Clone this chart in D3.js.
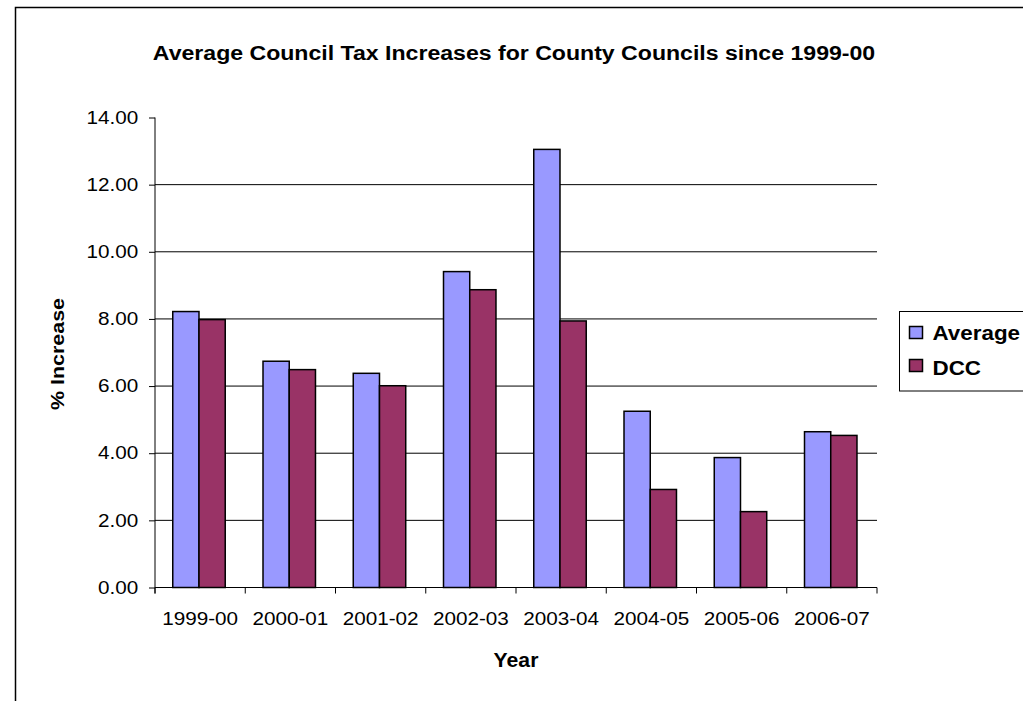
<!DOCTYPE html>
<html lang="en">
<head>
<meta charset="UTF-8">
<title>Average Council Tax Increases</title>
<script src="https://d3js.org/d3.v7.min.js"></script>
<style>
    body { margin: 0; background: #fff; }
    svg text { font-family: "Liberation Sans", Arial, sans-serif; fill: #000; }
</style>
</head>
<body>
<svg width="1023" height="701"></svg>
<script>
// chart data
const years = ["1999-00", "2000-01", "2001-02", "2002-03", "2003-04", "2004-05", "2005-06", "2006-07"];
const seriesNames = ["Average", "DCC"];
const averageValues = [8.22, 6.74, 6.38, 9.41, 13.05, 5.25, 3.87, 4.64];
const dccValues = [7.98, 6.49, 6.01, 8.87, 7.94, 2.92, 2.26, 4.53];
const yTicks = [0, 2, 4, 6, 8, 10, 12, 14];
const titleText = "Average Council Tax Increases for County Councils since 1999-00";

const colors = { "Average": "#9999ff", "DCC": "#993366" };
const svg = d3.select("svg");

// outer chart border (runs off the right / bottom of the picture)
svg.append("rect")
    .attr("x", 15.5).attr("y", 7.5)
    .attr("width", 1100).attr("height", 800)
    .attr("fill", "none").attr("stroke", "#000").attr("stroke-width", 1.5);

const plotLeft = 155, plotRight = 877, plotTop = 117.5, plotBottom = 587.5;

const x0 = d3.scaleBand().domain(years).range([plotLeft, plotRight]);
const x1 = d3.scaleBand().domain(seriesNames)
    .range([0, x0.bandwidth()]).paddingOuter(0.72).align(0.47);
const y = d3.scaleLinear().domain([0, 14]).range([plotBottom, plotTop]);

// gridlines
svg.append("g")
    .selectAll("line")
    .data(yTicks.filter(d => d > 0 && d < 14))
    .join("line")
    .attr("x1", plotLeft).attr("x2", plotRight)
    .attr("y1", d => y(d)).attr("y2", d => y(d))
    .attr("stroke", "#000").attr("stroke-width", 1);

// bars
const rows = years.map((yr, i) => ({ year: yr, values: [averageValues[i], dccValues[i]] }));
const groups = svg.append("g")
    .selectAll("g")
    .data(rows)
    .join("g")
    .attr("transform", d => `translate(${x0(d.year)},0)`);

groups.selectAll("rect")
    .data(d => seriesNames.map((s, j) => ({ key: s, value: d.values[j] })))
    .join("rect")
    .attr("x", d => x1(d.key))
    .attr("width", x1.bandwidth())
    .attr("y", d => y(d.value))
    .attr("height", d => y(0) - y(d.value))
    .attr("fill", d => colors[d.key])
    .attr("stroke", "#000")
    .attr("stroke-width", 1.5);

// y axis
const yAxis = svg.append("g")
    .attr("transform", `translate(${plotLeft},0)`)
    .call(d3.axisLeft(y).tickValues(yTicks).tickFormat(d3.format(".2f")).tickSize(6).tickPadding(8.5));
yAxis.select(".domain").remove();
yAxis.selectAll(".tick line").attr("stroke", "#000");
yAxis.selectAll("text")
    .attr("font-size", 18)
    .attr("transform", "scale(1.15,1)");
svg.append("line")
    .attr("x1", plotLeft).attr("x2", plotLeft)
    .attr("y1", plotTop).attr("y2", plotBottom + 6)
    .attr("stroke", "#000");

// x axis
svg.append("line")
    .attr("x1", plotLeft).attr("x2", plotRight)
    .attr("y1", plotBottom).attr("y2", plotBottom)
    .attr("stroke", "#000");
const xAxis = svg.append("g")
    .attr("transform", `translate(0,${plotBottom})`)
    .call(d3.axisBottom(x0).tickSize(0).tickPadding(24.7));
xAxis.select(".domain").remove();
xAxis.selectAll("text")
    .attr("font-size", 18)
    .attr("transform", "scale(1.15,1)");
svg.append("g")
    .selectAll("line")
    .data(years.map(d => x0(d)).concat([plotRight]))
    .join("line")
    .attr("x1", d => d).attr("x2", d => d)
    .attr("y1", plotBottom).attr("y2", plotBottom + 6)
    .attr("stroke", "#000");

// title and axis titles
svg.append("text")
    .attr("transform", "translate(514,60) scale(1.1,1)")
    .attr("text-anchor", "middle")
    .attr("font-size", 21).attr("font-weight", "bold")
    .text(titleText);

svg.append("text")
    .attr("transform", "translate(516,667) scale(1.06,1)")
    .attr("text-anchor", "middle")
    .attr("font-size", 20).attr("font-weight", "bold")
    .text("Year");

svg.append("text")
    .attr("transform", "translate(64,354) rotate(-90) scale(1.16,1)")
    .attr("text-anchor", "middle")
    .attr("font-size", 18.5).attr("font-weight", "bold")
    .text("% Increase");

// legend
const legend = svg.append("g");
legend.append("rect")
    .attr("x", 899.5).attr("y", 311.5)
    .attr("width", 200).attr("height", 79.5)
    .attr("fill", "#fff").attr("stroke", "#000").attr("stroke-width", 1);

const legendRows = [
    { key: "Average", sy: 326.5, ty: 340 },
    { key: "DCC", sy: 359.5, ty: 375 }
];
legend.selectAll("rect.sw")
    .data(legendRows)
    .join("rect")
    .attr("class", "sw")
    .attr("x", 909.5).attr("y", d => d.sy)
    .attr("width", 13).attr("height", 12)
    .attr("fill", d => colors[d.key])
    .attr("stroke", "#000").attr("stroke-width", 1.5);
legend.selectAll("text")
    .data(legendRows)
    .join("text")
    .attr("transform", d => `translate(932.5,${d.ty}) scale(1.12,1)`)
    .attr("font-size", 20).attr("font-weight", "bold")
    .text(d => d.key);
</script>
</body>
</html>
